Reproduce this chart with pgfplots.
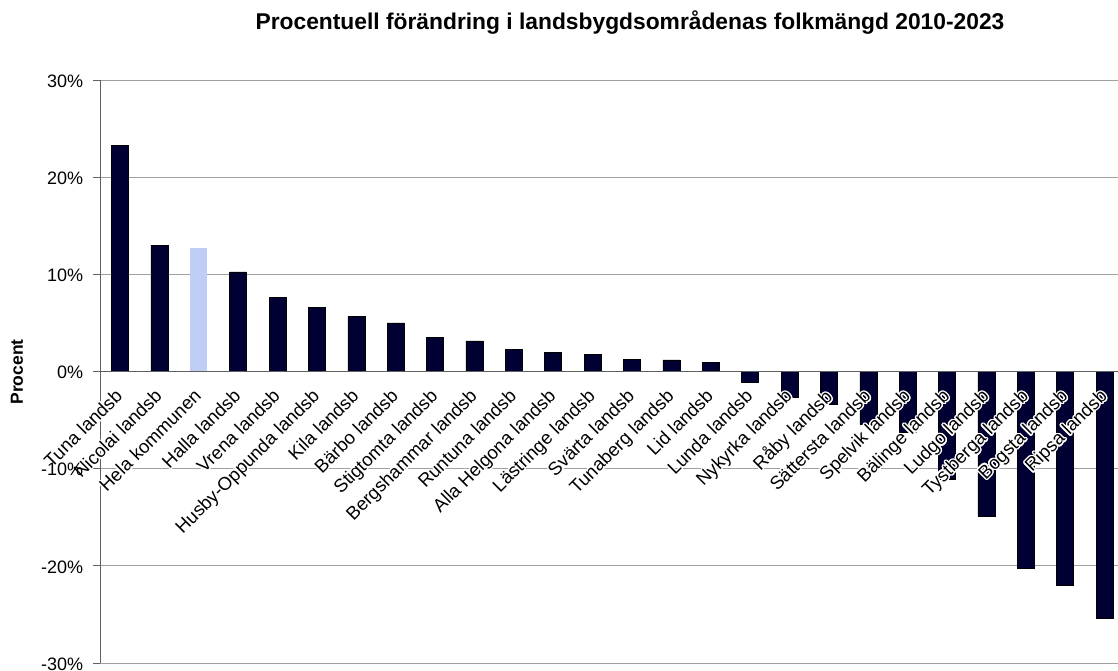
\documentclass[border=0pt]{standalone}
\usepackage{pgfplots}
\pgfplotsset{compat=1.18}
\usepackage{fontspec}
\setmainfont{Liberation Sans}
\usepackage[copies]{contour}
\contourlength{1.4pt}
\contournumber{16}
\definecolor{bardark}{HTML}{000033}
\definecolor{barlight}{HTML}{C0CDF5}
\definecolor{gridgray}{HTML}{A0A0A0}
\definecolor{axisgray}{HTML}{606060}
\newcommand{\cl}[1]{\contour{white}{#1}}
\pgfplotsset{
  layers/mylayers/.define layer set={axis background,axis grid,main,axis ticks,axis lines,axis tick labels,axis descriptions,axis foreground}{/pgfplots/layers/standard},
}
\begin{document}
\begin{tikzpicture}[x=1pt,y=1pt]
\begin{axis}[
  set layers=mylayers,
  at={(0,0)}, anchor=south west,
  scale only axis, width=1024pt, height=583pt,
  xmin=-0.5, xmax=25.5, ymin=-30, ymax=30,
  axis y line*=left, axis x line*=middle,
  hide obscured x ticks=false, hide obscured y ticks=false,
  axis line style={axisgray, line width=0.8pt},
  ymajorgrids, grid style={gridgray, line width=0.8pt},
  ytick={-30,-20,-10,0,10,20,30},
  yticklabels={-30\%,-20\%,-10\%,0\%,10\%,20\%,30\%},
  yticklabel style={font=\fontsize{18}{21}\selectfont, anchor=east, inner sep=0pt, xshift=-10pt, yshift=-1pt},
  ytick style={axisgray, line width=0.8pt},
  xtick={0,...,25},
  xtick style={draw=none},
  minor xtick={-0.5,0.5,...,25.5},
  minor x tick style={axisgray, line width=0.8pt},
  tick align=outside,
  major tick length=7pt, minor tick length=6pt,
  xticklabels={\cl{Tuna landsb},\cl{Nicolai landsb},\cl{Hela kommunen},\cl{Halla landsb},\cl{Vrena landsb},\cl{Husby-Oppunda landsb},\cl{Kila landsb},\cl{Bärbo landsb},\cl{Stigtomta landsb},\cl{Bergshammar landsb},\cl{Runtuna landsb},\cl{Alla Helgona landsb},\cl{Lästringe landsb},\cl{Svärta landsb},\cl{Tunaberg landsb},\cl{Lid landsb},\cl{Lunda landsb},\cl{Nykyrka landsb},\cl{Råby landsb},\cl{Sättersta landsb},\cl{Spelvik landsb},\cl{Bälinge landsb},\cl{Ludgo landsb},\cl{Tystberga landsb},\cl{Bogsta landsb},\cl{Ripsa landsb}},
  xticklabel style={font=\fontsize{18.5}{21}\selectfont, xshift=-6pt, yshift=-9pt, rotate=45, anchor=north east, inner sep=0pt},
  clip=false,
]
\addplot[ybar, bar width=17pt, bar shift=0pt, fill=bardark, draw=black, line width=0.5pt] coordinates {
(0,23.3) (1,13.0) (3,10.25) (4,7.6) (5,6.6) (6,5.7) (7,5.0) (8,3.5) (9,3.15) (10,2.26) (11,1.95) (12,1.75) (13,1.27) (14,1.2) (15,0.92) (16,-1.15) (17,-2.6) (18,-3.4) (19,-5.4) (20,-6.3) (21,-11.1) (22,-14.9) (23,-20.2) (24,-22.0) (25,-25.4)
};
\addplot[ybar, bar width=17pt, bar shift=0pt, fill=barlight, draw=none] coordinates {(2,12.76)};
\end{axis}
\node[font=\bfseries\fontsize{22.8}{27}\selectfont, anchor=base] at (529.7,633) {Procentuell förändring i landsbygdsområdenas folkmängd 2010-2023};
\node[rotate=90, font=\bfseries\fontsize{17.5}{21}\selectfont] at (-83.3,291) {Procent};
\pgfresetboundingbox
\path[use as bounding box] (-100.3,-7) rectangle (1017.7,663);
\end{tikzpicture}
\end{document}
